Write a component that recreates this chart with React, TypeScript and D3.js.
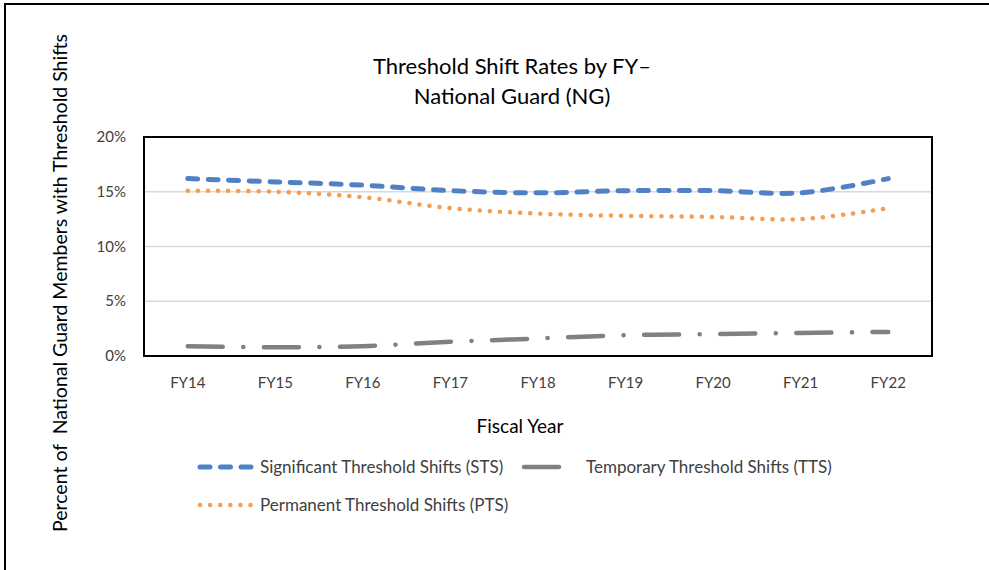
import React from 'react';
import * as d3 from 'd3';

const years = ['FY14', 'FY15', 'FY16', 'FY17', 'FY18', 'FY19', 'FY20', 'FY21', 'FY22'];
const sts = [16.2, 15.9, 15.6, 15.1, 14.9, 15.1, 15.1, 14.9, 16.2];
const pts = [15.1, 15.0, 14.5, 13.5, 13.0, 12.8, 12.7, 12.5, 13.5];
const tts = [0.9, 0.8, 0.9, 1.3, 1.6, 1.9, 2.0, 2.1, 2.2];
const yTicks = [0, 5, 10, 15, 20];

const W = 989;
const H = 570;
const font = 'Lato, "Open Sans", sans-serif';

const series = [
    { name: 'Significant Threshold Shifts (STS)', values: sts, color: '#4f81c4', width: 5, dash: '10 10.5' },
    { name: 'Permanent Threshold Shifts (PTS)', values: pts, color: '#f59d52', width: 4.5, dash: '0.1 10' },
    { name: 'Temporary Threshold Shifts (TTS)', values: tts, color: '#808080', width: 4.5, dash: '35 20.5 0.1 20.5' },
];

const App = () => {
    const left = 144, right = 932, top = 137, bottom = 356;

    const x = d3.scalePoint<string>().domain(years).range([left, right]).padding(0.5);
    const y = d3.scaleLinear().domain([0, 20]).range([bottom, top]);

    const line = d3
        .line<number>()
        .x((_, i) => x(years[i])!)
        .y((d) => y(d))
        .curve(d3.curveCatmullRom.alpha(0.5));

    // legend placement
    const legendItems = [
        { s: series[0], lx: 200, ly: 467, tx: 260 },
        { s: series[2], lx: 524, ly: 467, tx: 586 },
        { s: series[1], lx: 200, ly: 505, tx: 260 },
    ];

    return (
        <svg width={W} height={H} style={{ position: 'absolute', left: 0, top: 0, background: '#fff' }}>
            {/* outer frame */}
            <path d={`M5,${H} L5,4 L${W},4`} fill="none" stroke="#000" strokeWidth={2} />

            <text x={512} y={74} textAnchor="middle" fontFamily={font} fontSize={22} fill="#000">
                Threshold Shift Rates by FY–
            </text>
            <text x={512} y={104} textAnchor="middle" fontFamily={font} fontSize={22} fill="#000">
                National Guard (NG)
            </text>

            {/* gridlines */}
            {yTicks.map((t) => (
                <line key={t} x1={left} x2={right} y1={y(t)} y2={y(t)} stroke="#d9d9d9" strokeWidth={1.5} />
            ))}

            {/* y tick labels */}
            {yTicks.map((t) => (
                <text key={'l' + t} x={126} y={y(t) + 5} textAnchor="end" fontFamily={font} fontSize={15} fill="#404040">
                    {t}%
                </text>
            ))}

            {/* x tick labels */}
            {years.map((yr) => (
                <text key={yr} x={x(yr)} y={388} textAnchor="middle" fontFamily={font} fontSize={15} fill="#404040">
                    {yr}
                </text>
            ))}

            {series.map((s) => (
                <path
                    key={s.name}
                    d={line(s.values) ?? ''}
                    fill="none"
                    stroke={s.color}
                    strokeWidth={s.width}
                    strokeDasharray={s.dash}
                    strokeLinecap="round"
                />
            ))}

            <rect x={left} y={top} width={right - left} height={bottom - top} fill="none" stroke="#000" strokeWidth={2} />

            <text x={520} y={433} textAnchor="middle" fontFamily={font} fontSize={19} fill="#000">
                Fiscal Year
            </text>

            <text
                transform={`translate(67,283) rotate(-90)`}
                textAnchor="middle"
                fontFamily={font}
                fontSize={19.5}
                fill="#000"
                style={{ whiteSpace: 'pre' }}
            >
                Percent of  National Guard Members with Threshold Shifts
            </text>

            {legendItems.map(({ s, lx, ly, tx }) => (
                <g key={s.name}>
                    <line
                        x1={lx}
                        x2={lx + 52}
                        y1={ly}
                        y2={ly}
                        stroke={s.color}
                        strokeWidth={s.width}
                        strokeDasharray={s.dash}
                        strokeLinecap="round"
                    />
                    <text x={tx} y={ly + 6} fontFamily={font} fontSize={17} fill="#404040">
                        {s.name}
                    </text>
                </g>
            ))}
        </svg>
    );
};

export default App;
